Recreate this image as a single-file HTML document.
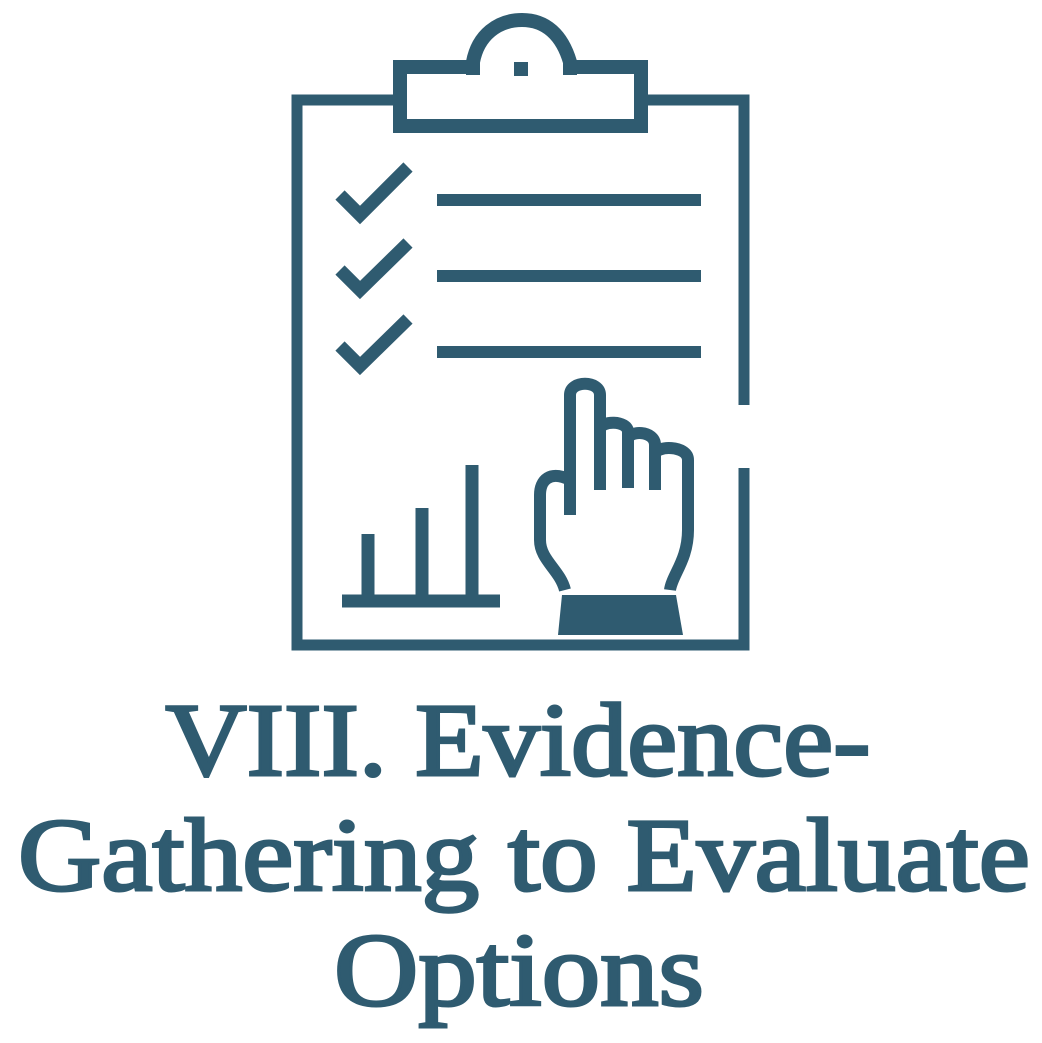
<!DOCTYPE html>
<html><head><meta charset="utf-8"><style>
html,body{margin:0;padding:0;background:#fff;width:1042px;height:1043px;overflow:hidden}
svg{display:block}
</style></head><body>
<svg width="1042" height="1043" viewBox="0 0 1042 1043">
<g fill="none" stroke="#2f5b70" stroke-width="11">
  <path d="M395 100 H297 V645 H744 V468 M744 405 V100 H647"/>
  <path stroke-width="14" d="M478 67 H400 V126 H641 V67 H565"/>
  <path stroke-width="14" d="M473 75 V62 C478 35 498 20 522 20 C546 20 562 35 570 62 V75"/>
  <path stroke-width="13" d="M340 195 L360 215 L408 167"/>
  <path stroke-width="13" d="M340 270 L360 290 L408 243"/>
  <path stroke-width="13" d="M340 346 L360 366 L408 319"/>
  <path stroke-width="12" d="M437 200 H701 M437 276 H701 M437 352 H701"/>
  <path stroke-width="13" d="M342 601 H500 M368 601 V534 M422 601 V508 M472 601 V465"/>
  <path stroke-width="12" d="M570 515 V395 C570 380 600 380 600 395 V490 M600 430 C600 420 628 420 628 432 V488 M628 440 C628 430 655 430 655 445 V490 M655 455 C655 445 688 445 688 460 V530 C688 560 672 575 670 590 M570 480 C550 470 540 480 540 495 V540 C540 560 560 570 565 590"/>
</g>
<rect x="514" y="62" width="14" height="14" fill="#2f5b70"/>
<path fill="#2f5b70" d="M562 595 H676 L683 635 H558 Z"/>
<g fill="#2f5b70" stroke="#2f5b70" stroke-width="3" font-family="'Liberation Serif', serif" font-size="104" text-anchor="middle">
  <text x="518" y="775" textLength="705" lengthAdjust="spacingAndGlyphs">VIII. Evidence-</text>
  <text x="524" y="890" textLength="1012" lengthAdjust="spacingAndGlyphs">Gathering to Evaluate</text>
  <text x="519" y="1005" textLength="370" lengthAdjust="spacingAndGlyphs">Options</text>
</g>
</svg>
</body></html>
